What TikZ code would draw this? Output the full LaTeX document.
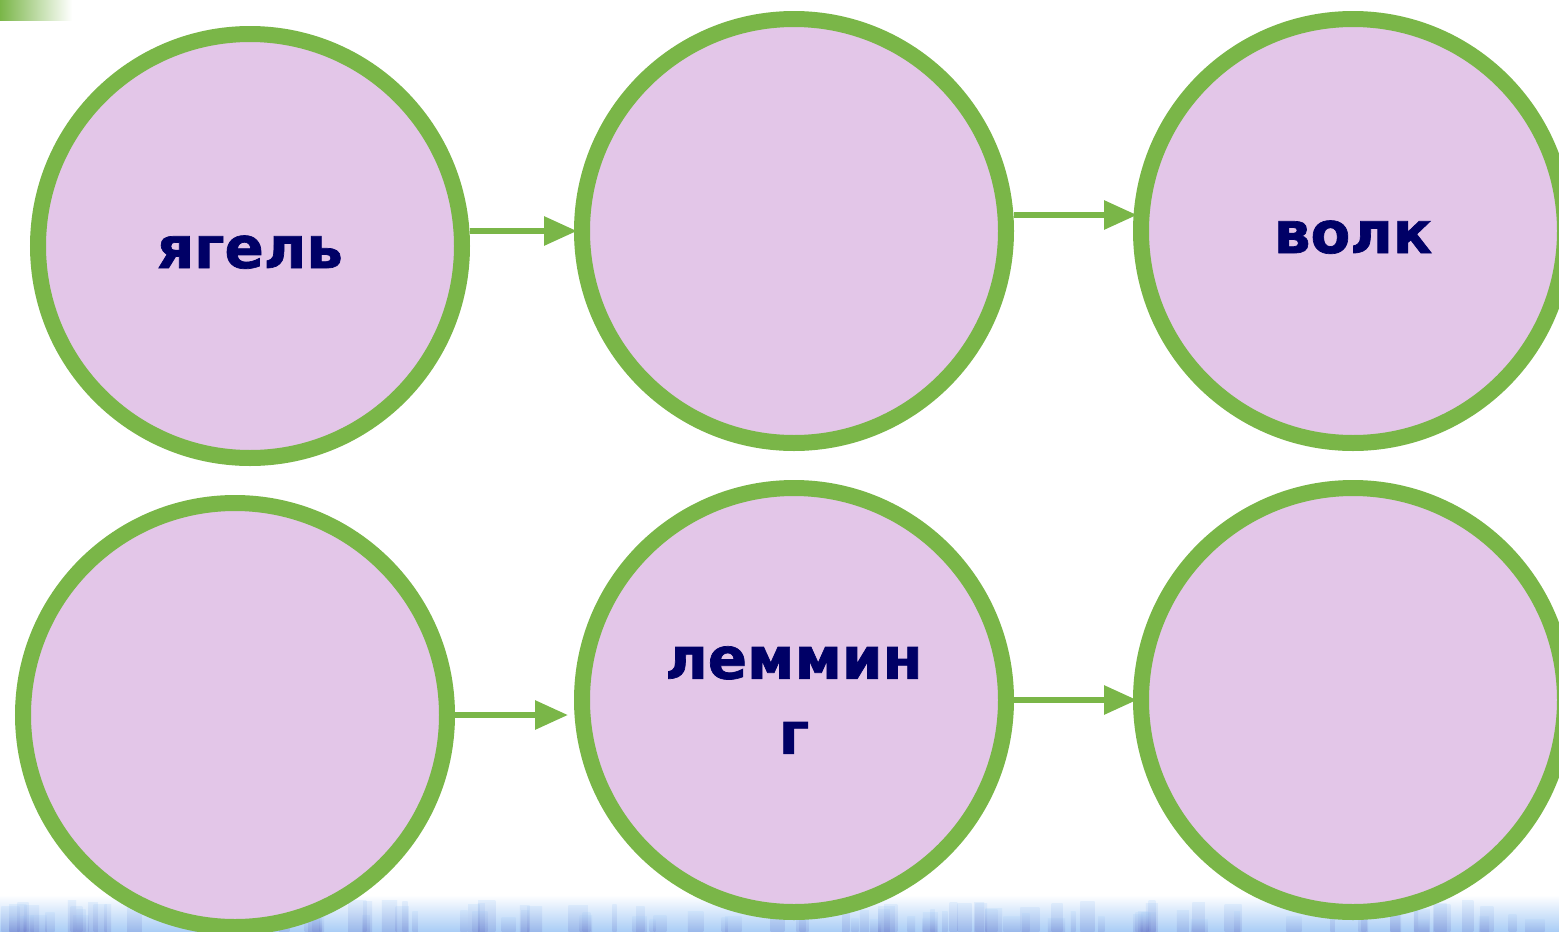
\documentclass[tikz,border=0pt]{standalone}
\usepackage{fontspec}
\setmainfont{DejaVu Sans}[BoldFeatures={FakeBold=1.2}]
\usetikzlibrary{arrows.meta,calc}
\definecolor{lgreen}{RGB}{122,182,72}
\definecolor{lpink}{RGB}{227,198,232}
\definecolor{navy}{RGB}{0,0,102}
\definecolor{grass}{RGB}{168,204,246}
\definecolor{grassd}{RGB}{100,110,195}
\begin{document}
\begin{tikzpicture}[x=1pt,y=-1pt,
  bubble/.style={circle,draw=lgreen,fill=lpink,line width=16pt,minimum size=424pt,inner sep=0pt,
    text=navy,font=\fontsize{58}{75}\selectfont\bfseries,align=center},
  oneline/.style={text height=44pt,text depth=0pt},
  arr/.style={draw=lgreen,line width=6pt,-{Triangle[length=33pt,width=28pt]}}]
\useasboundingbox (0,0) rectangle (1559,932);
% top-left gradient bar
\shade[left color=lgreen,right color=white] (0,0) rectangle (72,20);
% bottom grass strip
\shade[top color=white,bottom color=grass] (0,895) rectangle (1559,932);
\pgfmathsetseed{11}
\foreach \i in {1,...,110}{
  \pgfmathsetmacro\xx{rnd*1550}
  \pgfmathsetmacro\ww{4+rnd*16}
  \pgfmathsetmacro\hh{900+rnd*20}
  \shade[top color=grass,bottom color=grassd,opacity=0.22] (\xx,\hh) rectangle ({\xx+\ww},932);
}
% circles
\node[bubble,oneline] (c1) at (250,246) {ягель};
\node[bubble] (c2) at (794,231) {};
\node[bubble,oneline] (c3) at (1353,231) {волк};
\node[bubble] (c4) at (235,715) {};
\node[bubble] (c5) at (794,700) {леммин\\г};
\node[bubble] (c6) at (1353,700) {};
% arrows
\draw[arr,shorten >=-3pt] (c1.east |- c2.west) -- (c2.west);
\draw[arr,shorten >=-4pt] ([yshift=16pt]c2.east) -- ([yshift=16pt]c3.west);
\draw[arr,shorten >=6pt] (c4.east) -- (c4.east -| c5.west);
\draw[arr,shorten >=-4pt] (c5.east) -- (c6.west);
\end{tikzpicture}
\end{document}
